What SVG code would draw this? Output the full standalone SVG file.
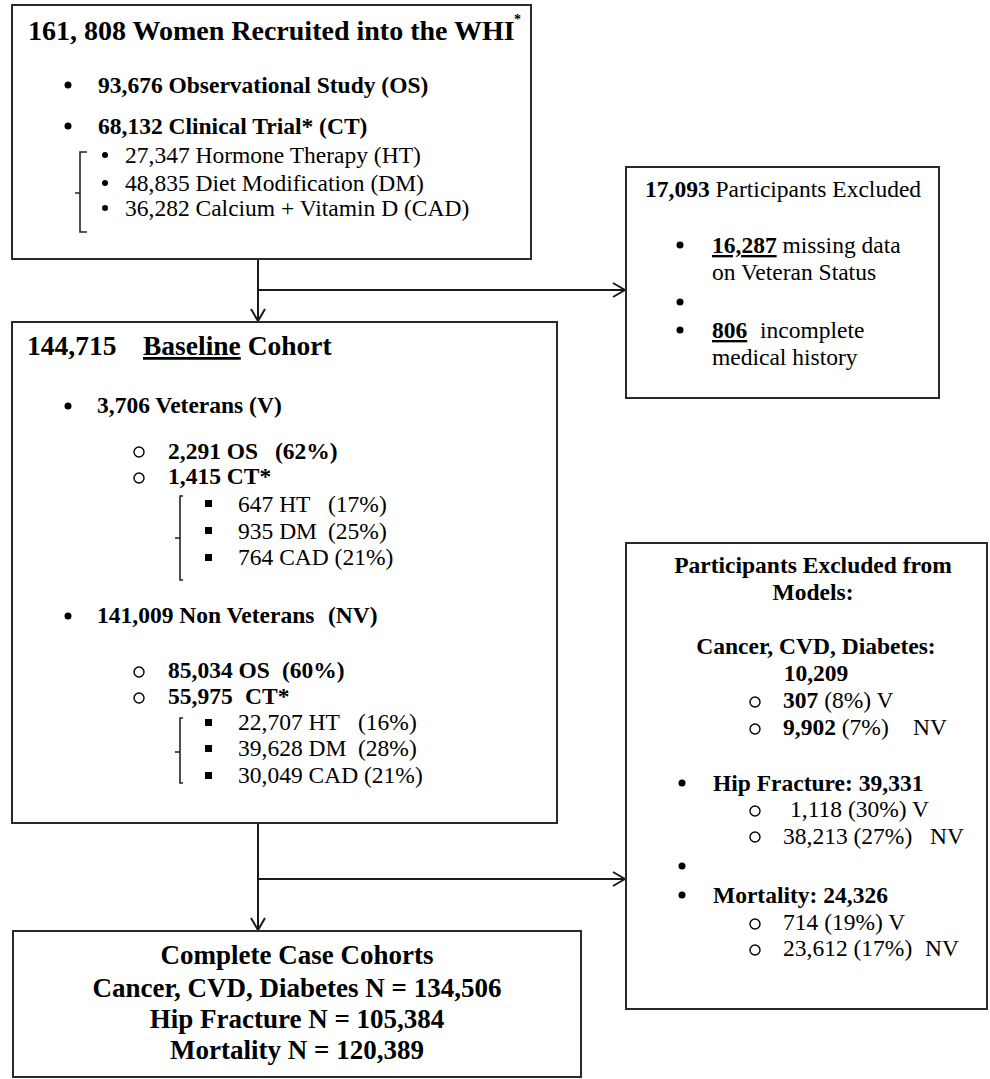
<svg xmlns="http://www.w3.org/2000/svg" width="990" height="1079" viewBox="0 0 990 1079">
<defs>
<style>
text{font-family:"Liberation Serif","Times New Roman",serif;fill:#000;font-size:23.5px;white-space:pre}
.b{font-weight:bold}
.t1{font-size:28px;font-weight:bold}
.t3{font-size:27.5px;font-weight:bold}
.t5{font-size:27px;font-weight:bold}
.c{text-anchor:middle}
.box{fill:#fff;stroke:#2a2a2a;stroke-width:2}
.ln{fill:none;stroke:#1a1a1a;stroke-width:2}
.br{fill:none;stroke:#222;stroke-width:1.6}
.dot{fill:#000}
.ring{fill:none;stroke:#000;stroke-width:1.4}
</style>
<marker id="ah" viewBox="0 0 14 16" refX="13" refY="8" markerWidth="14" markerHeight="16" markerUnits="userSpaceOnUse" orient="auto">
<path d="M1,1 L13,8 L1,15" fill="none" stroke="#1a1a1a" stroke-width="2"/>
</marker>
</defs>
<rect width="990" height="1079" fill="#fff"/>

<g id="connectors">
<line class="ln" x1="258" y1="259" x2="258" y2="321" marker-end="url(#ah)"/>
<line class="ln" x1="258" y1="290" x2="625" y2="290" marker-end="url(#ah)"/>
<line class="ln" x1="258" y1="823" x2="258" y2="930" marker-end="url(#ah)"/>
<line class="ln" x1="258" y1="879" x2="625" y2="879" marker-end="url(#ah)"/>
</g>

<g id="node-recruited">
<rect class="box" x="12" y="5" width="519" height="254"/>
<text class="t1" x="28" y="40">161, 808 Women Recruited into the WHI</text>
<text class="b" x="514" y="24" style="font-size:14px">*</text>
<circle class="dot" cx="68" cy="85" r="3.5"/>
<text class="b" x="98" y="93">93,676 Observational Study (OS)</text>
<circle class="dot" cx="68" cy="126" r="3.5"/>
<text class="b" x="98" y="134">68,132 Clinical Trial* (CT)</text>
<path class="br" d="M87,152 H80 V232 H87 M80,193 H75"/>
<circle class="dot" cx="105" cy="155" r="3"/>
<text x="125" y="163">27,347 Hormone Therapy (HT)</text>
<circle class="dot" cx="105" cy="183" r="3"/>
<text x="125" y="191">48,835 Diet Modification (DM)</text>
<circle class="dot" cx="105" cy="208" r="3"/>
<text x="125" y="216">36,282 Calcium + Vitamin D (CAD)</text>
</g>

<g id="node-excluded1">
<rect class="box" x="626" y="167" width="313" height="231"/>
<text x="645" y="197"><tspan class="b">17,093</tspan> Participants Excluded</text>
<circle class="dot" cx="680" cy="245" r="3.5"/>
<text x="712" y="253"><tspan class="b" text-decoration="underline">16,287</tspan> missing data</text>
<text x="712" y="280">on Veteran Status</text>
<circle class="dot" cx="680" cy="302" r="3.5"/>
<circle class="dot" cx="680" cy="330" r="3.5"/>
<text x="712" y="338"><tspan class="b" text-decoration="underline">806</tspan><tspan x="760">incomplete</tspan></text>
<text x="712" y="365">medical history</text>
</g>

<g id="node-baseline">
<rect class="box" x="12" y="322" width="545" height="501"/>
<text class="t3" x="27" y="355">144,715<tspan x="143" text-decoration="underline">Baseline</tspan> Cohort</text>
<circle class="dot" cx="68" cy="406" r="3.5"/>
<text class="b" x="97" y="413">3,706 Veterans (V)</text>
<circle class="ring" cx="139" cy="452" r="5"/>
<text class="b" x="168" y="459">2,291 OS<tspan x="275">(62%)</tspan></text>
<circle class="ring" cx="139" cy="478" r="5"/>
<text class="b" x="168" y="484">1,415 CT*</text>
<path class="br" d="M183,496 H180 V580 H183 M180,538 H175"/>
<rect class="dot" x="205" y="500" width="7" height="7"/>
<text x="238" y="512">647 HT<tspan x="328">(17%)</tspan></text>
<rect class="dot" x="205" y="527" width="7" height="7"/>
<text x="238" y="539">935 DM<tspan x="328">(25%)</tspan></text>
<rect class="dot" x="205" y="554" width="7" height="7"/>
<text x="238" y="565">764 CAD (21%)</text>
<circle class="dot" cx="68" cy="616" r="3.5"/>
<text class="b" x="97" y="623">141,009 Non Veterans<tspan x="328">(NV)</tspan></text>
<circle class="ring" cx="139" cy="672" r="5"/>
<text class="b" x="168" y="678">85,034 OS<tspan x="282">(60%)</tspan></text>
<circle class="ring" cx="139" cy="698" r="5"/>
<text class="b" x="168" y="704">55,975<tspan x="245">CT*</tspan></text>
<path class="br" d="M183,718 H180 V783 H183 M180,752 H175"/>
<rect class="dot" x="205" y="719" width="7" height="7"/>
<text x="238" y="730">22,707 HT<tspan x="358">(16%)</tspan></text>
<rect class="dot" x="205" y="745" width="7" height="7"/>
<text x="238" y="756">39,628 DM<tspan x="358">(28%)</tspan></text>
<rect class="dot" x="205" y="772" width="7" height="7"/>
<text x="238" y="783">30,049 CAD (21%)</text>
</g>

<g id="node-excluded2">
<rect class="box" x="626" y="543" width="361" height="466"/>
<text class="b c" x="813" y="573">Participants Excluded from</text>
<text class="b c" x="813" y="600">Models:</text>
<text class="b c" x="816" y="654">Cancer, CVD, Diabetes:</text>
<text class="b c" x="816" y="681">10,209</text>
<circle class="ring" cx="755" cy="702" r="5"/>
<text x="783" y="708"><tspan class="b">307</tspan> (8%) V</text>
<circle class="ring" cx="755" cy="729" r="5"/>
<text x="783" y="735"><tspan class="b">9,902</tspan> (7%)<tspan x="913">NV</tspan></text>
<circle class="dot" cx="682" cy="783" r="3.5"/>
<text class="b" x="713" y="791">Hip Fracture: 39,331</text>
<circle class="ring" cx="755" cy="811" r="5"/>
<text x="790" y="817">1,118 (30%) V</text>
<circle class="ring" cx="755" cy="837" r="5"/>
<text x="783" y="844">38,213 (27%)<tspan x="930">NV</tspan></text>
<circle class="dot" cx="682" cy="866" r="3.5"/>
<circle class="dot" cx="682" cy="895" r="3.5"/>
<text class="b" x="713" y="903">Mortality: 24,326</text>
<circle class="ring" cx="755" cy="924" r="5"/>
<text x="783" y="930">714 (19%) V</text>
<circle class="ring" cx="755" cy="950" r="5"/>
<text x="783" y="956">23,612 (17%)<tspan x="925">NV</tspan></text>
</g>

<g id="node-complete">
<rect class="box" x="13" y="931" width="568" height="146"/>
<text class="t5 c" x="297" y="964">Complete Case Cohorts</text>
<text class="t5 c" x="297" y="997">Cancer, CVD, Diabetes N = 134,506</text>
<text class="t5 c" x="297" y="1028">Hip Fracture N = 105,384</text>
<text class="t5 c" x="297" y="1059">Mortality N = 120,389</text>
</g>
</svg>
